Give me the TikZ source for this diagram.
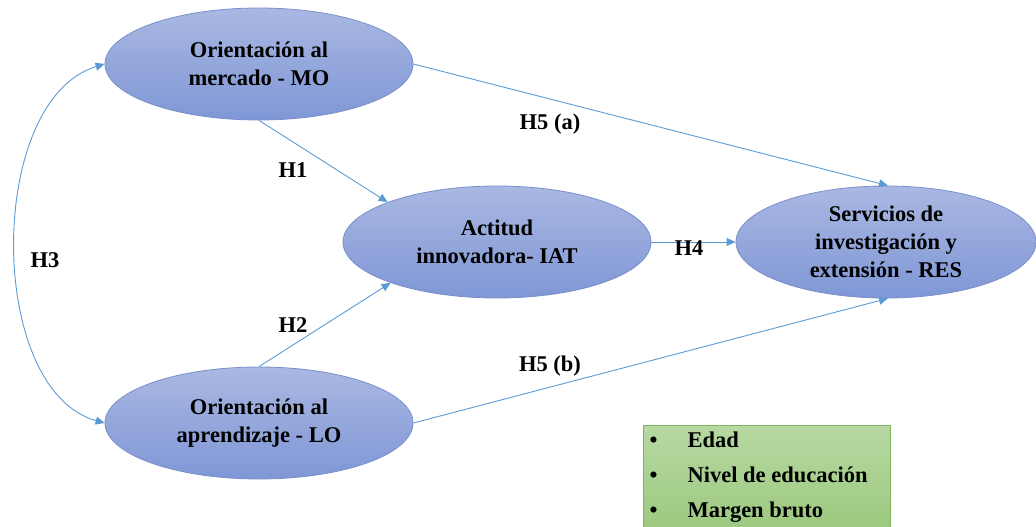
\documentclass[tikz,border=0pt]{standalone}
\usepackage{fontspec}
\setmainfont{Liberation Serif}
\usetikzlibrary{arrows.meta,shapes.geometric}
\definecolor{ellTop}{HTML}{AAB8E2}
\definecolor{ellBot}{HTML}{7F97D6}
\definecolor{ellEdge}{HTML}{7A8FCB}
\definecolor{linkBlue}{HTML}{5B9BD5}
\definecolor{boxTop}{HTML}{B7D8A3}
\definecolor{boxBot}{HTML}{9CC97F}
\definecolor{boxEdge}{HTML}{7DB35A}
\tikzset{
  construct/.style={ellipse, draw=ellEdge, line width=0.8pt, top color=ellTop, bottom color=ellBot,
    minimum width=308pt, minimum height=112pt, inner sep=0pt, align=center,
    font=\fontsize{22.5}{28}\selectfont\bfseries},
  link/.style={draw=linkBlue, line width=0.9pt, -{Triangle[length=9pt,width=8pt]}},
  hyp/.style={font=\fontsize{22.5}{26}\selectfont\bfseries, inner sep=0pt},
}
\begin{document}
\begin{tikzpicture}[x=1pt,y=-1pt]
\useasboundingbox (0,0) rectangle (1036,527);
% constructs
\node[construct] (mo) at (259,64) {Orientación al\\mercado - MO};
\node[construct] (lo) at (259,423) {Orientación al\\aprendizaje - LO};
\node[construct] (iat) at (497,242) {Actitud\\innovadora- IAT};
\node[construct, minimum width=300pt] (res) at (886,242) {Servicios de\\investigación y\\extensión - RES};
% control variables
\node[draw=boxEdge, line width=0.8pt, top color=boxTop, bottom color=boxBot,
      minimum width=247pt, minimum height=104pt, inner sep=0pt] (ctrl) at (766.5,477) {};
\node[anchor=west, font=\fontsize{22.5}{26}\selectfont\bfseries, align=left] (ctrltxt) at (646,477)
  {\makebox[38pt][l]{\textbullet}Edad\\[9pt]\makebox[38pt][l]{\textbullet}Nivel de educación\\[9pt]\makebox[38pt][l]{\textbullet}Margen bruto};
% hypotheses paths
\draw[link] (mo.south) -- (iat.160);
\draw[link] (lo.north) -- (iat.201);
\draw[link] (iat.east) -- (res.west);
\draw[link] (mo.east) -- (res.88);
\draw[link] (lo.east) -- (res.272);
\draw[link, {Triangle[length=9pt,width=8pt]}-{Triangle[length=9pt,width=8pt]}]
  (mo.west) .. controls (-14,100) and (-14,390) .. (lo.west);
% labels
\node[hyp] (h1) at (293,170) {H1};
\node[hyp] (h2) at (293,325) {H2};
\node[hyp] (h3) at (45,260) {H3};
\node[hyp] (h4) at (689,248) {H4};
\node[hyp] (h5a) at (550,124) {H5 (a)};
\node[hyp] (h5b) at (550,366) {H5 (b)};
\end{tikzpicture}
\end{document}
